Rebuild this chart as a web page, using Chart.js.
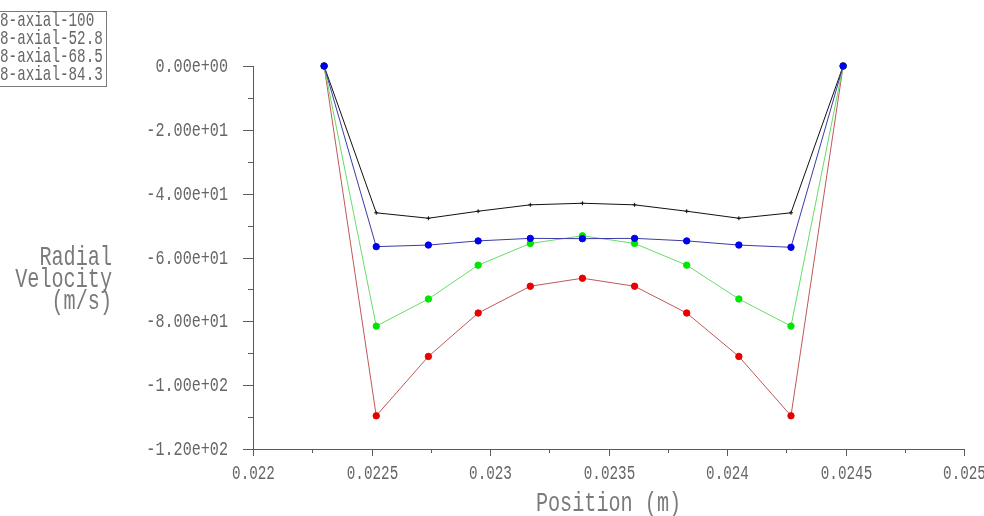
<!DOCTYPE html>
<html>
<head>
<meta charset="utf-8">
<script src="https://cdn.jsdelivr.net/npm/chart.js@4/dist/chart.umd.min.js"></script>
<style>
  body { margin: 0; background: #fff; }
  #wrap { width: 984px; height: 516px; position: relative; }
</style>
</head>
<body>
<div id="wrap"><canvas id="myChart"></canvas></div>
<script>
// positions along the line (m)
const positions = [0.0223, 0.02252, 0.02274, 0.02295, 0.02317, 0.02339, 0.02361, 0.02383, 0.02405, 0.02427, 0.02449];

// radial velocity (m/s) per case
const axial100 = [0, -109.6, -91.0, -77.4, -69.0, -66.5, -69.0, -77.4, -91.0, -109.6, 0];
const axial84 = [0, -81.5, -73.0, -62.4, -55.6, -53.2, -55.6, -62.4, -73.0, -81.5, 0];
const axial68 = [0, -56.6, -56.1, -54.8, -54.0, -54.1, -54.0, -54.8, -56.1, -56.8, 0];
const axial52 = [0, -46.0, -47.7, -45.5, -43.5, -43.0, -43.5, -45.5, -47.7, -46.0, 0];

const legendLabels = ["8-axial-100", "8-axial-52.8", "8-axial-68.5", "8-axial-84.3"];

const xTicks = [0.022, 0.0225, 0.023, 0.0235, 0.024, 0.0245, 0.025];
const xMinorTicks = [0.02225, 0.02275, 0.02325, 0.02375, 0.02425, 0.02475];
const yTicks = [0, -20, -40, -60, -80, -100, -120];
const yMinorTicks = [-10, -30, -50, -70, -90, -110];

const xTitle = "Position (m)";
const yTitle = ["Radial", "Velocity", "(m/s)"];

const FONT = '"Liberation Mono"';

function toPoints(values) {
  return values.map((v, i) => ({ x: positions[i], y: v }));
}

function sciLabel(v) {
  let s = v.toExponential(2);
  return s.replace(/e([+-])(\d)$/, "e$10$2");
}

function drawText(ctx, txt, x, y, size, sx, align, color) {
  ctx.save();
  ctx.translate(x, y);
  ctx.scale(sx, 1);
  ctx.font = size + "px " + FONT;
  ctx.textAlign = align;
  ctx.textBaseline = "middle";
  ctx.fillStyle = color;
  ctx.fillText(txt, 0, 0);
  ctx.restore();
}

const axesPlugin = {
  id: "fluentAxes",
  afterDraw(chart) {
    const ctx = chart.ctx;
    const xs = chart.scales.x;
    const ys = chart.scales.y;
    const area = chart.chartArea;
    ctx.save();
    ctx.strokeStyle = "#5a5a5a";
    ctx.lineWidth = 1;

    // axis lines
    ctx.beginPath();
    ctx.moveTo(area.left + 0.5, area.top);
    ctx.lineTo(area.left + 0.5, area.bottom + 0.5);
    ctx.lineTo(area.right, area.bottom + 0.5);
    ctx.stroke();

    // y ticks
    yTicks.forEach((t) => {
      const py = Math.round(ys.getPixelForValue(t)) + 0.5;
      ctx.beginPath();
      ctx.moveTo(area.left - 10, py);
      ctx.lineTo(area.left, py);
      ctx.stroke();
      drawText(ctx, sciLabel(t), area.left - 25, py, 21, 0.72, "right", "#666");
    });
    yMinorTicks.forEach((t) => {
      const py = Math.round(ys.getPixelForValue(t)) + 0.5;
      ctx.beginPath();
      ctx.moveTo(area.left - 5, py);
      ctx.lineTo(area.left, py);
      ctx.stroke();
    });

    // x ticks
    xTicks.forEach((t) => {
      const px = Math.round(xs.getPixelForValue(t)) + 0.5;
      ctx.beginPath();
      ctx.moveTo(px, area.bottom);
      ctx.lineTo(px, area.bottom + 7);
      ctx.stroke();
      drawText(ctx, String(t), px, area.bottom + 24, 21, 0.68, "center", "#666");
    });
    xMinorTicks.forEach((t) => {
      const px = Math.round(xs.getPixelForValue(t)) + 0.5;
      ctx.beginPath();
      ctx.moveTo(px, area.bottom);
      ctx.lineTo(px, area.bottom + 4);
      ctx.stroke();
    });

    // titles
    drawText(ctx, xTitle, (area.left + area.right) / 2, area.bottom + 55, 28, 0.72, "center", "#7a7a7a");
    yTitle.forEach((line, i) => {
      drawText(ctx, line, 112, 258 + i * 22, 28, 0.72, "right", "#7a7a7a");
    });

    // legend box
    ctx.strokeStyle = "#7a7a7a";
    ctx.strokeRect(-2, 11.5, 108.5, 75);
    legendLabels.forEach((lbl, i) => {
      drawText(ctx, lbl, 0, 20 + i * 18.2, 21, 0.68, "left", "#666");
    });
    ctx.restore();
  }
};

function initChart(targetElement) {
  const data = {
    datasets: [
      {
        label: "8-axial-68.5",
        data: toPoints(axial68),
        borderColor: "#3a3aa8",
        backgroundColor: "#0000ee",
        pointBackgroundColor: "#0000ee",
        pointBorderColor: "#0000ee",
        pointRadius: 3.2,
        borderWidth: 1,
        order: 1
      },
      {
        label: "8-axial-84.3",
        data: toPoints(axial84),
        borderColor: "#66dd66",
        backgroundColor: "#00e600",
        pointBackgroundColor: "#00e600",
        pointBorderColor: "#00e600",
        pointRadius: 3.2,
        borderWidth: 1,
        order: 2
      },
      {
        label: "8-axial-100",
        data: toPoints(axial100),
        borderColor: "#c05858",
        backgroundColor: "#e60000",
        pointBackgroundColor: "#e60000",
        pointBorderColor: "#e60000",
        pointRadius: 3.2,
        borderWidth: 1,
        order: 3
      },
      {
        label: "8-axial-52.8",
        data: toPoints(axial52),
        borderColor: "#111111",
        backgroundColor: "#111111",
        pointStyle: "cross",
        pointRadius: 2,
        pointBorderWidth: 1,
        pointBorderColor: "#111111",
        borderWidth: 1,
        order: 4
      }
    ]
  };

  const config = {
    type: "line",
    data: data,
    plugins: [axesPlugin],
    options: {
      responsive: true,
      maintainAspectRatio: false,
      animation: false,
      clip: false,
      layout: { padding: { left: 253, top: 66, right: 20, bottom: 67 } },
      plugins: { legend: { display: false }, tooltip: { enabled: false } },
      elements: { line: { tension: 0 } },
      scales: {
        x: { type: "linear", min: 0.022, max: 0.025, display: false },
        y: { type: "linear", min: -120, max: 0, display: false }
      }
    }
  };

  return new Chart(targetElement, config);
}

document.addEventListener("DOMContentLoaded", () => {
  initChart(document.querySelector("#myChart"));
});
</script>
</body>
</html>
